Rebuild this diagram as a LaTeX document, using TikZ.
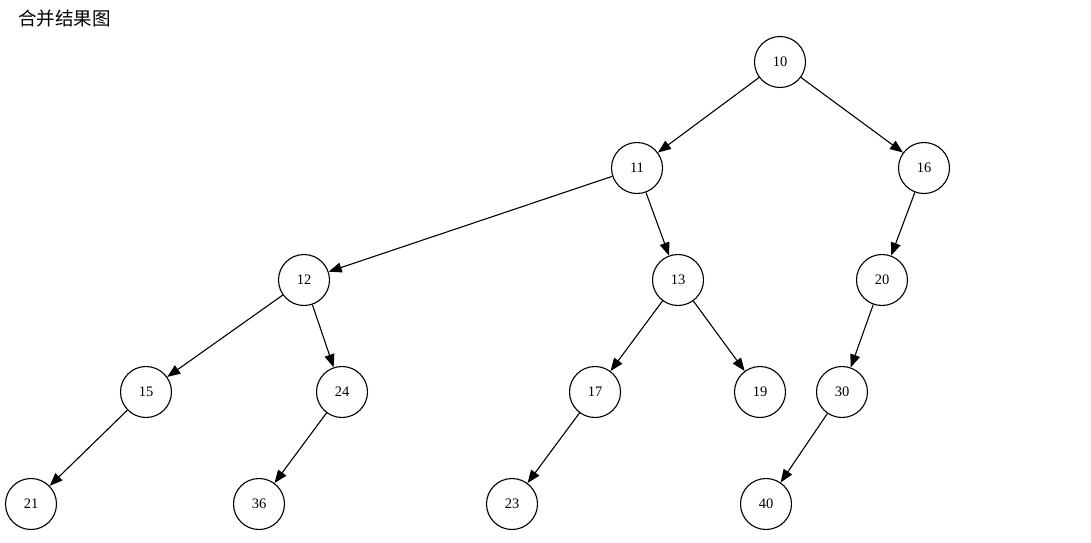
\documentclass[tikz,border=0pt]{standalone}
\usepackage{fontspec}
\setmainfont{Liberation Serif}
\newfontfamily\cjk{Noto Sans CJK SC}
\usetikzlibrary{arrows.meta}
\begin{document}
\begin{tikzpicture}[x=1pt,y=-1pt,
  vert/.style={circle,draw,line width=1.1pt,minimum size=51pt,inner sep=0pt,font=\fontsize{14.5}{16}\selectfont},
  edge/.style={line width=1.1pt,-{Triangle[length=13pt,width=10pt]}}]
\useasboundingbox[fill=white] (0,0) rectangle (1091,542);
\node[anchor=west,font=\cjk\fontsize{18.5}{20}\selectfont,inner sep=0pt] (title) at (18,19) {合并结果图};
\begin{scope}[yshift=-1pt]
\node[vert] (n10) at (780,61) {10};
\node[vert] (n11) at (637,167) {11};
\node[vert] (n16) at (924,167) {16};
\node[vert] (n12) at (304,279) {12};
\node[vert] (n13) at (678,279) {13};
\node[vert] (n20) at (882,279) {20};
\node[vert] (n15) at (146,391) {15};
\node[vert] (n24) at (342,391) {24};
\node[vert] (n17) at (595,391) {17};
\node[vert] (n19) at (760,391) {19};
\node[vert] (n30) at (842,391) {30};
\node[vert] (n21) at (31,503) {21};
\node[vert] (n36) at (259,503) {36};
\node[vert] (n23) at (512,503) {23};
\node[vert] (n40) at (766,503) {40};
\end{scope}
\draw[edge] (n10) -- (n11);
\draw[edge] (n10) -- (n16);
\draw[edge] (n11) -- (n12);
\draw[edge] (n11) -- (n13);
\draw[edge] (n16) -- (n20);
\draw[edge] (n12) -- (n15);
\draw[edge] (n12) -- (n24);
\draw[edge] (n13) -- (n17);
\draw[edge] (n13) -- (n19);
\draw[edge] (n20) -- (n30);
\draw[edge] (n15) -- (n21);
\draw[edge] (n24) -- (n36);
\draw[edge] (n17) -- (n23);
\draw[edge] (n30) -- (n40);
\end{tikzpicture}
\end{document}
